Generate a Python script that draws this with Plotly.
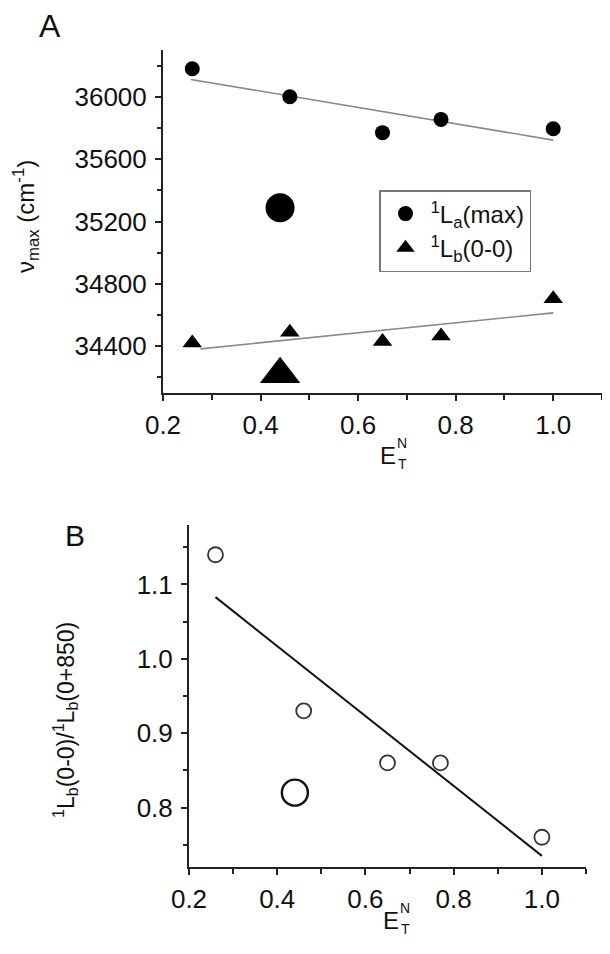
import plotly.graph_objects as go

# ---------------- Panel A data ----------------
et_a = [0.26, 0.46, 0.65, 0.77, 1.0]
la_max = [36180, 36000, 35770, 35855, 35795]
lb_00 = [34420, 34490, 34430, 34465, 34705]
special_x = [0.44]
la_special = [35288]
lb_special = [34220]
fit_la_x = [0.257, 1.0]
fit_la_y = [36111, 35722]
fit_lb_x = [0.277, 1.0]
fit_lb_y = [34383, 34614]

# ---------------- Panel B data ----------------
et_b = [0.26, 0.46, 0.65, 0.77, 1.0]
ratio = [1.14, 0.93, 0.86, 0.86, 0.76]
ratio_special = [0.82]
fit_b_x = [0.26, 1.0]
fit_b_y = [1.083, 0.735]

# page body has an 8px margin; figure is sized to fit the window exactly
OFF = 8
W, H = 610 - OFF, 954 - OFF
FONT = "Arial, Liberation Sans, sans-serif"
AX = "#222222"

def px(x):
    return (x - OFF) / W

def py(y):
    return 1 - (y - OFF) / H

fig = go.Figure()

# Panel A
fig.add_trace(go.Scatter(x=fit_la_x, y=fit_la_y, mode="lines",
                         line=dict(color="#8a8a8a", width=1.6),
                         showlegend=False, xaxis="x", yaxis="y"))
fig.add_trace(go.Scatter(x=fit_lb_x, y=fit_lb_y, mode="lines",
                         line=dict(color="#8a8a8a", width=1.6),
                         showlegend=False, xaxis="x", yaxis="y"))
fig.add_trace(go.Scatter(x=et_a, y=la_max, mode="markers",
                         name="<sup>1</sup>L<sub>a</sub>(max)",
                         marker=dict(symbol="circle", size=15, color="black"),
                         xaxis="x", yaxis="y"))
fig.add_trace(go.Scatter(x=et_a, y=lb_00, mode="markers",
                         name="<sup>1</sup>L<sub>b</sub>(0-0)",
                         marker=dict(symbol="triangle-up", size=17, color="black"),
                         xaxis="x", yaxis="y"))
fig.add_trace(go.Scatter(x=special_x, y=la_special, mode="markers",
                         marker=dict(symbol="circle", size=29, color="black"),
                         showlegend=False, xaxis="x", yaxis="y"))
fig.add_trace(go.Scatter(x=special_x, y=lb_special, mode="markers",
                         marker=dict(symbol="triangle-up", size=35, color="black"),
                         showlegend=False, xaxis="x", yaxis="y"))

# Panel B
fig.add_trace(go.Scatter(x=fit_b_x, y=fit_b_y, mode="lines",
                         line=dict(color="#111111", width=2),
                         showlegend=False, xaxis="x2", yaxis="y2"))
fig.add_trace(go.Scatter(x=et_b, y=ratio, mode="markers",
                         marker=dict(symbol="circle-open", size=15, color="#333333",
                                     line=dict(color="#333333", width=1.8)),
                         showlegend=False, xaxis="x2", yaxis="y2"))
fig.add_trace(go.Scatter(x=special_x, y=ratio_special, mode="markers",
                         marker=dict(symbol="circle-open", size=26, color="#111111",
                                     line=dict(color="#111111", width=2.4)),
                         showlegend=False, xaxis="x2", yaxis="y2"))

tickfont = dict(family=FONT, size=26, color="#111111")

def xaxis_cfg(domain, anchor):
    return dict(domain=domain, anchor=anchor, range=[0.2, 1.1],
                tick0=0.2, dtick=0.2, tickformat=".1f",
                ticks="outside", ticklen=6, tickwidth=1.5, tickcolor=AX,
                minor=dict(dtick=0.1, ticks="outside", ticklen=5,
                           tickwidth=1.5, tickcolor=AX),
                showline=True, linecolor=AX, linewidth=2, mirror=False,
                showgrid=False, zeroline=False, tickfont=tickfont,
                ticklabelstandoff=2, automargin=False)

def yaxis_cfg(domain, anchor, rng, tick0, dtick, mdtick, fmt):
    return dict(domain=domain, anchor=anchor, range=rng,
                tick0=tick0, dtick=dtick, tickformat=fmt,
                ticks="outside", ticklen=6, tickwidth=1.5, tickcolor=AX,
                minor=dict(dtick=mdtick, ticks="outside", ticklen=4,
                           tickwidth=1.5, tickcolor=AX),
                showline=True, linecolor=AX, linewidth=2, mirror=False,
                showgrid=False, zeroline=False, tickfont=tickfont,
                ticklabelstandoff=3, automargin=False)

annotations = []

def ann(text, x, y, size, angle=0, xanchor="center", yanchor="middle"):
    annotations.append(dict(text=text, x=px(x), y=py(y), xref="paper", yref="paper",
                            showarrow=False, textangle=angle,
                            xanchor=xanchor, yanchor=yanchor,
                            font=dict(family=FONT, size=size, color="#111111")))

# Panel letters
ann("A", 50, 26, 32)
ann("B", 75, 535, 30)

# Y titles
ann("ν<sub>max</sub> (cm<sup>-1</sup>)", 26, 217, 24, angle=-90)
ann("<sup>1</sup>L<sub>b</sub>(0-0)/<sup>1</sup>L<sub>b</sub>(0+850)", 65, 720, 23, angle=-90)

# X titles (stacked sub/superscript)
for (ex, ey) in [(388, 455), (391, 920)]:
    ann("E", ex, ey, 24)
    ann("N", ex + 14, ey - 12, 14)
    ann("T", ex + 14, ey + 9, 14)

fig.update_layout(
    width=W, height=H,
    margin=dict(l=0, r=0, t=0, b=0),
    paper_bgcolor="white", plot_bgcolor="white",
    xaxis=xaxis_cfg([px(163), px(602)], "y"),
    yaxis=yaxis_cfg([py(393), py(50)], "x", [34100, 36300], 34400, 400, 200, "d"),
    xaxis2=xaxis_cfg([px(189), px(586)], "y2"),
    yaxis2=yaxis_cfg([py(867), py(525)], "x2", [0.72, 1.18], 0.8, 0.1, 0.05, ".1f"),
    legend=dict(x=px(379), y=py(190), xanchor="left", yanchor="top",
                bordercolor="#777777", borderwidth=1.5, bgcolor="white",
                font=dict(family=FONT, size=24, color="#111111"),
                tracegroupgap=0, itemwidth=40),
    annotations=annotations,
    showlegend=True,
)

fig.write_html("out.html")
